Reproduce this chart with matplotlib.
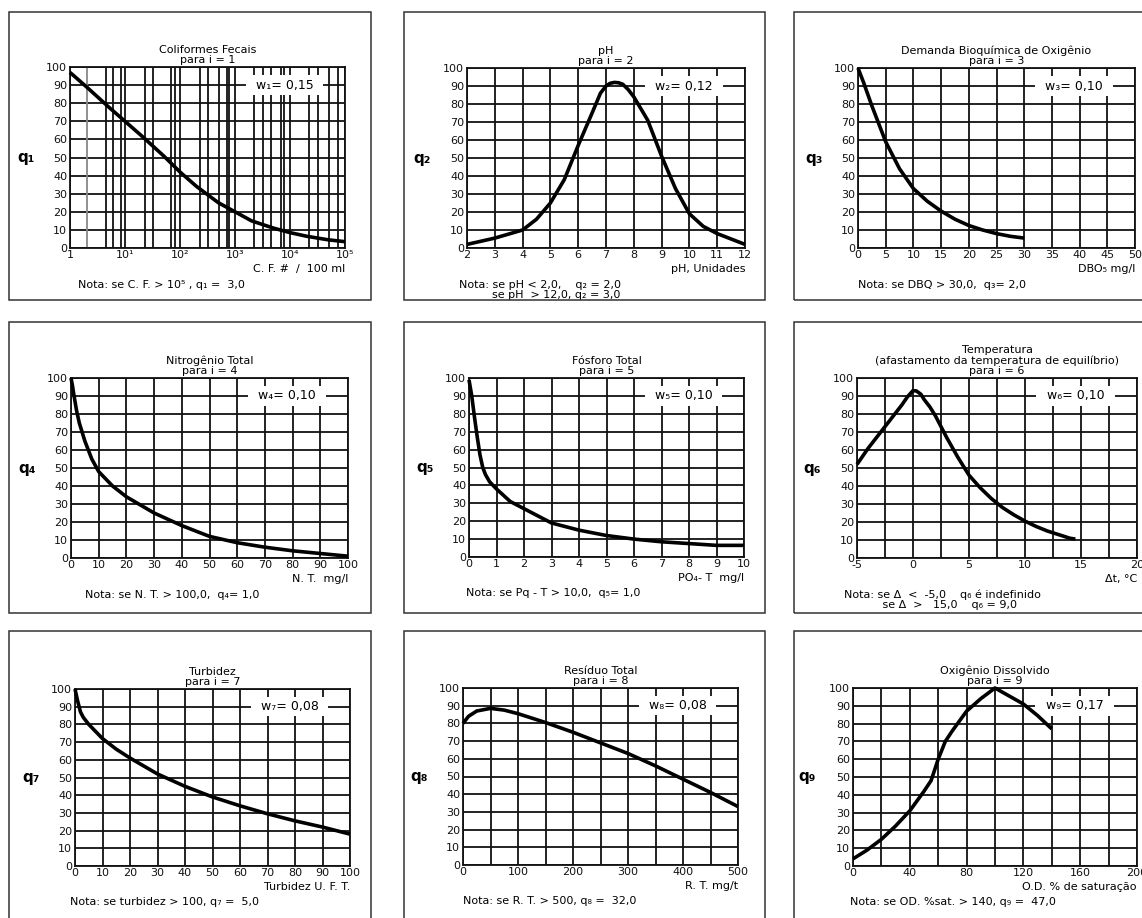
import matplotlib
matplotlib.use('Agg')
import matplotlib.pyplot as plt
from matplotlib.patches import Rectangle

plt.rcParams['font.family'] = ['DejaVu Sans']

# --- values ---
cf_x = [1, 2, 5, 10, 20, 50, 100, 200, 500, 1000, 2000, 5000, 1e4, 2e4, 5e4, 1e5]
cf_q = [97, 89, 78, 70, 62, 51, 42, 34, 25, 20, 15, 11, 8.5, 6.5, 4.5, 3.5]

ph_x = [2, 3, 4, 4.5, 5, 5.5, 6, 6.5, 6.8, 7, 7.15, 7.3, 7.45, 7.6, 7.8, 8, 8.5, 9,
        9.5, 10, 10.5, 11, 11.5, 12]
ph_q = [2, 5.5, 10, 16, 25, 38, 57, 75, 86, 90, 91.5, 92, 91.8, 91, 88, 84, 71, 51,
        33, 19, 12, 8, 5, 2]

dbo_x = [0, 1, 2.5, 5, 7.5, 10, 12.5, 15, 17.5, 20, 22.5, 25, 27.5, 30]
dbo_q = [100, 92, 79, 59, 44, 33, 26, 20.5, 16, 12.5, 10, 8, 6.5, 5.5]

nt_x = [0, 0.5, 1, 2, 3, 5, 7.5, 10, 15, 20, 30, 40, 50, 60, 70, 80, 90, 100]
nt_q = [100, 96, 91, 82, 75, 65, 55, 48, 40, 34, 25, 18, 12, 8.5, 6, 4, 2.5, 1]

pt_x = [0, 0.1, 0.2, 0.3, 0.4, 0.5, 0.6, 0.75, 1, 1.5, 2, 3, 4, 5, 6, 7, 8, 9, 10]
pt_q = [99, 90, 78, 67, 57, 50, 46, 42, 38, 31, 27, 19, 15, 12, 10, 8.5, 7.5, 6.5, 6.5]

temp_x = [-5, -4, -3, -2, -1, -0.5, 0, 0.3, 0.7, 1, 1.5, 2, 3, 4, 5, 6, 7, 8, 9, 10,
          11, 12, 13, 14, 14.5]
temp_q = [52, 61, 69, 77, 85, 89.5, 93, 92.8, 91, 88, 84, 79, 67, 56, 46, 39, 33, 28,
          24, 20.5, 17.5, 15, 13, 11, 10.5]

turb_x = [0, 1, 2, 3, 5, 7.5, 10, 15, 20, 30, 40, 50, 60, 70, 80, 90, 100]
turb_q = [100, 93, 87, 84, 80, 76, 72, 66, 61, 52, 45, 39, 34, 29.5, 25.5, 22, 18]

rt_x = [0, 10, 25, 50, 75, 100, 150, 200, 250, 300, 350, 400, 450, 500]
rt_q = [80, 84, 87, 88.5, 87.5, 85.5, 80.5, 75, 69, 63, 56, 48.5, 41, 33]

od_x = [0, 10, 20, 30, 40, 50, 55, 60, 65, 70, 80, 90, 100, 110, 120, 130, 140]
od_q = [4, 9, 15, 22.5, 31, 42, 48, 60, 70, 76, 87, 94, 100, 95.5, 91, 84.5, 77]

titles = ['Coliformes Fecais\npara i = 1', 'pH\npara i = 2',
          'Demanda Bioquímica de Oxigênio\npara i = 3',
          'Nitrogênio Total\npara i = 4', 'Fósforo Total\npara i = 5',
          'Temperatura\n(afastamento da temperatura de equilíbrio)\npara i = 6',
          'Turbidez\npara i = 7', 'Resíduo Total\npara i = 8',
          'Oxigênio Dissolvido\npara i = 9']
weights = ['w₁= 0,15', 'w₂= 0,12', 'w₃= 0,10', 'w₄= 0,10', 'w₅= 0,10',
           'w₆= 0,10', 'w₇= 0,08', 'w₈= 0,08', 'w₉= 0,17']
xlabels = ['C. F. #  /  100 ml', 'pH, Unidades', 'DBO₅ mg/l', 'N. T.  mg/l',
           'PO₄- T  mg/l', 'Δt, °C', 'Turbidez U. F. T.', 'R. T. mg/t',
           'O.D. % de saturação']
notes = ['Nota: se C. F. > 10⁵ , q₁ =  3,0',
         'Nota: se pH < 2,0,    q₂ = 2,0\nse pH  > 12,0, q₂ = 3,0',
         'Nota: se DBQ > 30,0,  q₃= 2,0',
         'Nota: se N. T. > 100,0,  q₄= 1,0',
         'Nota: se Pq - T > 10,0,  q₅= 1,0',
         'Nota: se Δ  <  -5,0    q₆ é indefinido\n           se Δ  >   15,0    q₆ = 9,0',
         'Nota: se turbidez > 100, q₇ =  5,0',
         'Nota: se R. T. > 500, q₈ =  32,0',
         'Nota: se OD. %sat. > 140, q₉ =  47,0']
cf_ticklabels = ['1', '10¹', '10²', '10³', '10⁴', '10⁵']

W, H = 1142, 918
fig = plt.figure(figsize=(W / 100, H / 100), dpi=100)
fig.patch.set_facecolor('white')

# outer frames of each panel (pixels: left, right, top, bottom)
frames = [(9, 371, 12, 300), (404, 765, 12, 300), (794, 1160, 12, 300),
          (9, 371, 322, 613), (404, 765, 322, 613), (794, 1160, 322, 613),
          (9, 371, 631, 930), (404, 765, 631, 930), (794, 1160, 631, 930)]
for l, r, t, b in frames:
    fig.patches.append(Rectangle((l / W, 1 - b / H), (r - l) / W, (b - t) / H,
                                 transform=fig.transFigure, fill=False,
                                 edgecolor='#333333', linewidth=1.1))

# plot areas (pixels: left, right, top, bottom)
boxes = [(70, 345, 67, 248), (467, 745, 68, 248), (858, 1135, 68, 248),
         (71, 348, 378, 558), (469, 744, 378, 557), (857, 1137, 378, 558),
         (75, 350, 689, 866), (463, 738, 688, 865), (853, 1137, 688, 866)]
note_dx = [0.03, -0.03, 0.0, 0.05, -0.01, -0.045, -0.02, 0.0, -0.01]

series = [(cf_x, cf_q), (ph_x, ph_q), (dbo_x, dbo_q), (nt_x, nt_q), (pt_x, pt_q),
          (temp_x, temp_q), (turb_x, turb_q), (rt_x, rt_q), (od_x, od_q)]

grid_kw = dict(color='#111111', linewidth=1.3)

for i, ((l, r, t, b), (xs, qs)) in enumerate(zip(boxes, series)):
    ax = fig.add_axes([l / W, 1 - b / H, (r - l) / W, (b - t) / H])
    ax.set_ylim(0, 100)
    ax.set_yticks(range(0, 101, 10))

    if i == 0:
        ax.set_xscale('log')
        ax.set_xlim(1, 1e5)
        ax.set_xticks([1, 10, 100, 1000, 1e4, 1e5])
        ax.set_xticklabels(cf_ticklabels)
        minor = [4.5, 6, 8.5, 23, 32, 69, 80, 230, 320, 510, 730, 780,
                 2200, 3200, 4500, 6900, 7900, 22000, 32000, 52000, 74000]
        ax.set_xticks(minor, minor=True)
        ax.set_xticklabels([], minor=True)
        ax.axvline(2, color='#888888', linewidth=1.3, zorder=1)
        ax.grid(True, which='both', **grid_kw)
    else:
        limits = {1: (2, 12, 1, 1), 2: (0, 50, 5, 5), 3: (0, 100, 10, 10),
                  4: (0, 10, 1, 1), 5: (-5, 20, 2.5, 5), 6: (0, 100, 10, 10),
                  7: (0, 500, 50, 100), 8: (0, 200, 20, 40)}
        x0, x1, gstep, lstep = limits[i]
        ax.set_xlim(x0, x1)
        n = int(round((x1 - x0) / gstep))
        gridpos = [x0 + k * gstep for k in range(n + 1)]
        labpos = [p for p in gridpos
                  if abs(((p - x0) / lstep) - round((p - x0) / lstep)) < 1e-6]
        ax.set_xticks(labpos)
        ax.set_xticklabels([f'{p:g}' for p in labpos])
        ax.set_xticks([p for p in gridpos if p not in labpos], minor=True)
        ax.grid(True, which='both', **grid_kw)

    ax.set_axisbelow(True)
    ax.tick_params(which='both', length=0, pad=2, labelsize=8, colors='#111111')
    ax.tick_params(axis='x', pad=1.5)
    for s in ax.spines.values():
        s.set_linewidth(1.3)
        s.set_color('#111111')

    ax.plot(xs, qs, color='black', linewidth=2.6, solid_capstyle='butt',
            solid_joinstyle='round', zorder=5, clip_on=False)

    # white box behind the weight label
    ax.add_patch(Rectangle((0.64, 0.845), 0.28, 0.11, transform=ax.transAxes,
                           facecolor='white', edgecolor='none', zorder=3))
    ax.text(0.78, 0.9, weights[i], transform=ax.transAxes, ha='center', va='center',
            fontsize=9, zorder=4)

    ax.set_title(titles[i], fontsize=8, pad=3, linespacing=1.0)
    ax.set_ylabel(f'q{"₁₂₃₄₅₆₇₈₉"[i]}', rotation=0, fontsize=11, fontweight='bold',
                  va='center')
    ax.yaxis.set_label_coords(-0.16, 0.5)
    ax.text(1.0, -0.09, xlabels[i], transform=ax.transAxes, ha='right', va='top',
            fontsize=8)
    ax.text(note_dx[i], -0.175, notes[i], transform=ax.transAxes, ha='left', va='top',
            fontsize=8, linespacing=1.0,
            multialignment='right' if i == 1 else 'left')

fig.savefig('out.png', dpi=100, facecolor='white')
